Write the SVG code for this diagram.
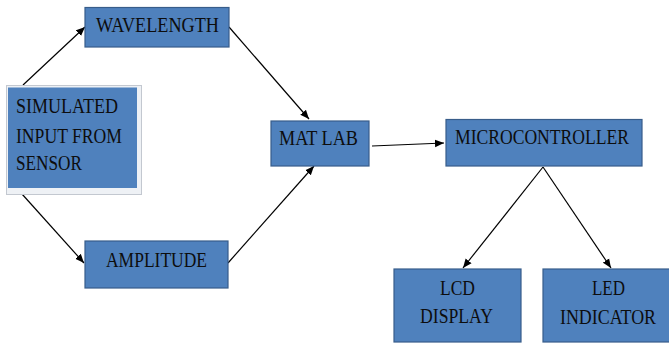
<svg xmlns="http://www.w3.org/2000/svg" width="669" height="343" viewBox="0 0 669 343">
  <style>
    .box { fill: #4f81bd; stroke: #385d8a; stroke-width: 1.2; }
    .lbl { font-family: "Liberation Serif", "Times New Roman", serif; font-size: 21px; fill: #0d0d0d; }
    .wire { stroke: #000; stroke-width: 1.2; fill: none; marker-end: url(#arrow); }
  </style>
  <defs>
    <marker id="arrow" viewBox="0 0 10 10" refX="10" refY="5" markerWidth="9" markerHeight="9" markerUnits="userSpaceOnUse" orient="auto">
      <path d="M0,0.8 L10,5 L0,9.2 Z" fill="#000"/>
    </marker>
  </defs>

  <rect width="669" height="343" fill="#fff"/>

  <g id="connectors">
    <line class="wire" x1="23" y1="85" x2="85" y2="27"/>
    <line class="wire" x1="22" y1="194" x2="84" y2="263"/>
    <line class="wire" x1="229" y1="27" x2="309" y2="119"/>
    <line class="wire" x1="228" y1="263" x2="314" y2="166"/>
    <line class="wire" x1="372" y1="146" x2="444" y2="143"/>
    <line class="wire" x1="543" y1="167" x2="463" y2="268"/>
    <line class="wire" x1="543" y1="167" x2="611" y2="268"/>
  </g>

  <g id="sensor">
    <rect x="6.5" y="85.5" width="135" height="109" fill="#eef1f5" stroke="#c3c8d0" stroke-width="1"/>
    <rect x="8" y="87.5" width="129" height="100.5" fill="#4f81bd"/>
    <text class="lbl" x="16" y="113" textLength="102" lengthAdjust="spacingAndGlyphs">SIMULATED</text>
    <text class="lbl" x="16" y="142.5" textLength="106" lengthAdjust="spacingAndGlyphs">INPUT FROM</text>
    <text class="lbl" x="16" y="170" textLength="66" lengthAdjust="spacingAndGlyphs">SENSOR</text>
  </g>

  <g id="wavelength">
    <rect class="box" x="85" y="7.5" width="144" height="39.5"/>
    <text class="lbl" x="96" y="32" textLength="123" lengthAdjust="spacingAndGlyphs">WAVELENGTH</text>
  </g>

  <g id="amplitude">
    <rect class="box" x="85" y="241" width="143" height="47"/>
    <text class="lbl" x="106" y="267" textLength="101" lengthAdjust="spacingAndGlyphs">AMPLITUDE</text>
  </g>

  <g id="matlab">
    <rect class="box" x="271" y="121" width="98" height="45"/>
    <text class="lbl" x="279" y="145" textLength="79" lengthAdjust="spacingAndGlyphs">MAT LAB</text>
  </g>

  <g id="microcontroller">
    <rect class="box" x="446" y="119.5" width="196" height="46.5"/>
    <text class="lbl" x="455" y="144" textLength="174" lengthAdjust="spacingAndGlyphs">MICROCONTROLLER</text>
  </g>

  <g id="lcd">
    <rect class="box" x="394" y="269" width="127" height="73"/>
    <text class="lbl" x="440" y="295" textLength="35" lengthAdjust="spacingAndGlyphs">LCD</text>
    <text class="lbl" x="420" y="323" textLength="73" lengthAdjust="spacingAndGlyphs">DISPLAY</text>
  </g>

  <g id="led">
    <rect class="box" x="543" y="269" width="140" height="73"/>
    <text class="lbl" x="592" y="295" textLength="33" lengthAdjust="spacingAndGlyphs">LED</text>
    <text class="lbl" x="560" y="324" textLength="96" lengthAdjust="spacingAndGlyphs">INDICATOR</text>
  </g>
</svg>
